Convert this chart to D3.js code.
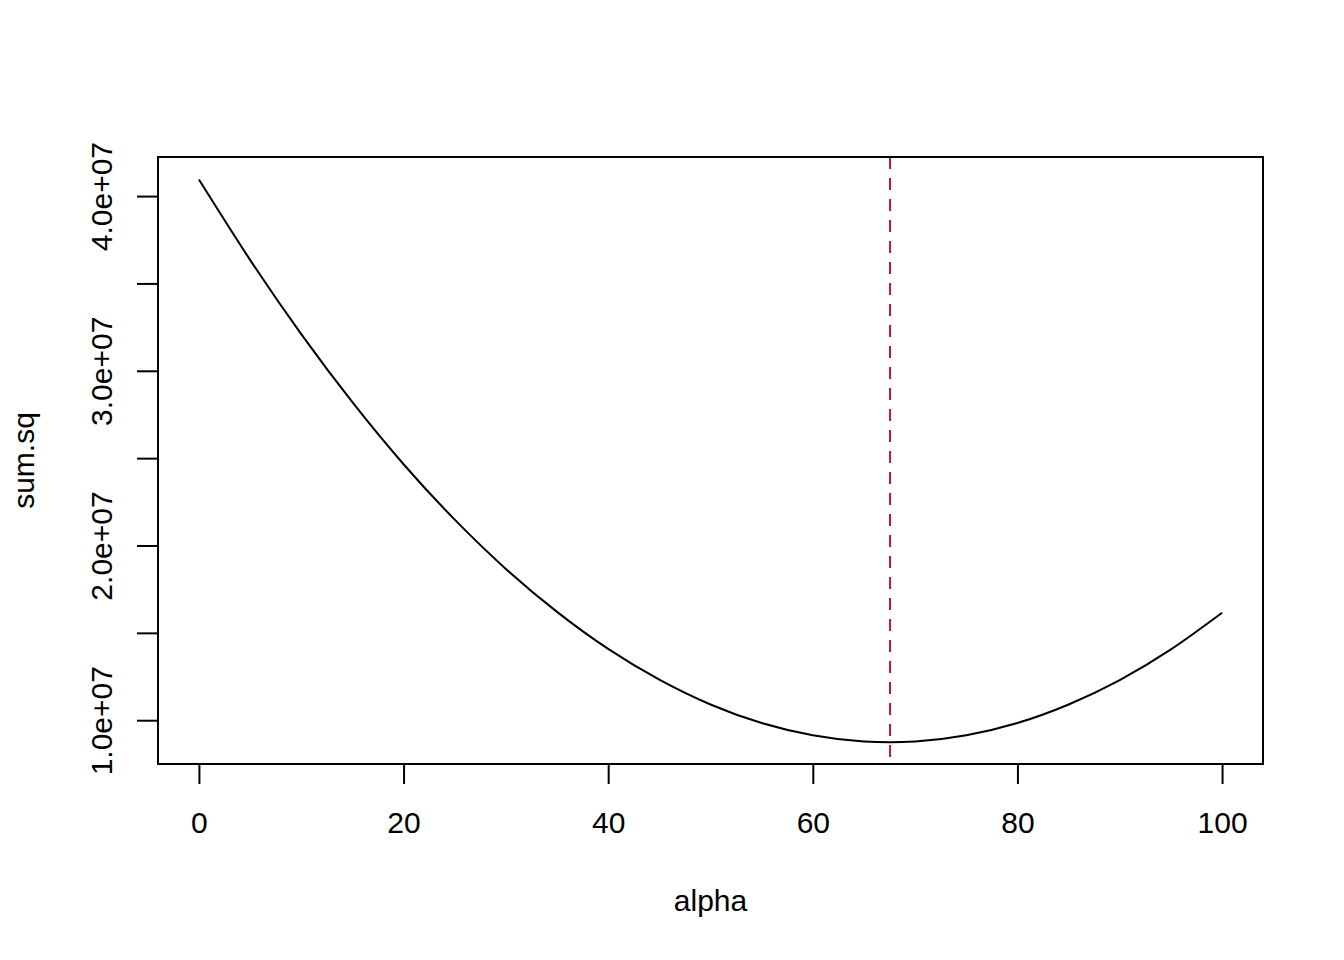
<!DOCTYPE html>
<html>
<head>
<meta charset="utf-8">
<script src="https://cdn.jsdelivr.net/npm/d3@7"></script>
<style>
  body { margin: 0; background: #fff; }
  text { font-family: "Liberation Sans", Arial, Helvetica, sans-serif; fill: #000; }
</style>
</head>
<body>
<div id="plot"></div>
<script>

// values
var alphaValues = [0, 5, 10, 15, 20, 25, 30, 35, 40, 45, 50,
                   55, 60, 65, 70, 75, 80, 85, 90, 95, 100];
var sumSqValues = [40.95e6, 36.35e6, 32.10e6, 28.20e6, 24.65e6, 21.48e6, 18.66e6,
                   16.20e6, 14.08e6, 12.32e6, 10.90e6, 9.84e6, 9.14e6, 8.78e6,
                   8.78e6, 9.14e6, 9.84e6, 10.90e6, 12.30e6, 14.05e6, 16.15e6];
var bestAlpha = 67.55;
var xTicks = [0, 20, 40, 60, 80, 100];
var yTicks = [1.0e7, 1.5e7, 2.0e7, 2.5e7, 3.0e7, 3.5e7, 4.0e7];
var yLabelled = [1.0e7, 2.0e7, 3.0e7, 4.0e7];

var svgWidth = 1344;
var svgHeight = 960;

var margin = {
    top: 157,
    right: 81,
    bottom: 196,
    left: 158
};

var width = svgWidth - margin.left - margin.right;
var height = svgHeight - margin.top - margin.bottom;

var data = alphaValues.map(function(a, i) {
    return { alpha: a, sumsq: sumSqValues[i] };
});

var svg = d3
    .select("#plot")
    .append("svg")
    .attr("width", svgWidth)
    .attr("height", svgHeight);

var chartGroup = svg.append("g")
    .attr("transform", `translate(${margin.left}, ${margin.top})`);

// R style: pad the data range by 4% on each side
function padded(ext) {
    var pad = (ext[1] - ext[0]) * 0.04;
    return [ext[0] - pad, ext[1] + pad];
}

var xLinearScale = d3.scaleLinear()
    .domain(padded(d3.extent(alphaValues)))
    .range([0, width]);

var yLinearScale = d3.scaleLinear()
    .domain(padded(d3.extent(sumSqValues)))
    .range([height, 0]);

function sciLabel(v) {
    if (yLabelled.indexOf(v) < 0) return "";
    var exp = Math.floor(Math.log10(v));
    var mant = (v / Math.pow(10, exp)).toFixed(1);
    return mant + "e+" + String(exp).padStart(2, "0");
}

var bottomAxis = d3.axisBottom(xLinearScale)
    .tickValues(xTicks)
    .tickSize(20)
    .tickSizeOuter(0);

var leftAxis = d3.axisLeft(yLinearScale)
    .tickValues(yTicks)
    .tickFormat(sciLabel)
    .tickSize(21)
    .tickSizeOuter(0);

var xAxis = chartGroup.append("g")
    .attr("transform", `translate(0, ${height})`)
    .call(bottomAxis);

xAxis.select(".domain").remove();
xAxis.selectAll("line").attr("stroke", "#000").attr("stroke-width", 2);
xAxis.selectAll("text")
    .attr("y", 69)
    .attr("dy", 0)
    .attr("font-size", "30px")
    .attr("fill", "#000");

var yAxis = chartGroup.append("g")
    .call(leftAxis);

yAxis.select(".domain").remove();
yAxis.selectAll("line").attr("stroke", "#000").attr("stroke-width", 2);
yAxis.selectAll("text")
    .attr("x", 0)
    .attr("y", 0)
    .attr("dy", 0)
    .attr("transform", "translate(-46, 0) rotate(-90)")
    .attr("text-anchor", "middle")
    .attr("font-size", "30px")
    .attr("fill", "#000");

// the curve
var line = d3.line()
    .x(d => xLinearScale(d.alpha))
    .y(d => yLinearScale(d.sumsq))
    .curve(d3.curveNatural);

chartGroup.append("path")
    .datum(data)
    .attr("d", line)
    .attr("fill", "none")
    .attr("stroke", "#000")
    .attr("stroke-width", 2);

// minimum marker
chartGroup.append("line")
    .attr("x1", xLinearScale(bestAlpha))
    .attr("x2", xLinearScale(bestAlpha))
    .attr("y1", 0)
    .attr("y2", height)
    .attr("stroke", "#b5192a")
    .attr("stroke-width", 2)
    .attr("stroke-dasharray", "12,9");

// box
chartGroup.append("rect")
    .attr("x", 0)
    .attr("y", 0)
    .attr("width", width)
    .attr("height", height)
    .attr("fill", "none")
    .attr("stroke", "#000")
    .attr("stroke-width", 2);

chartGroup.append("text")
    .attr("x", width / 2)
    .attr("y", height + 147)
    .attr("text-anchor", "middle")
    .attr("font-size", "30px")
    .text("alpha");

chartGroup.append("text")
    .attr("transform", `translate(-124, ${height / 2}) rotate(-90)`)
    .attr("text-anchor", "middle")
    .attr("font-size", "30px")
    .text("sum.sq");

</script>
</body>
</html>
